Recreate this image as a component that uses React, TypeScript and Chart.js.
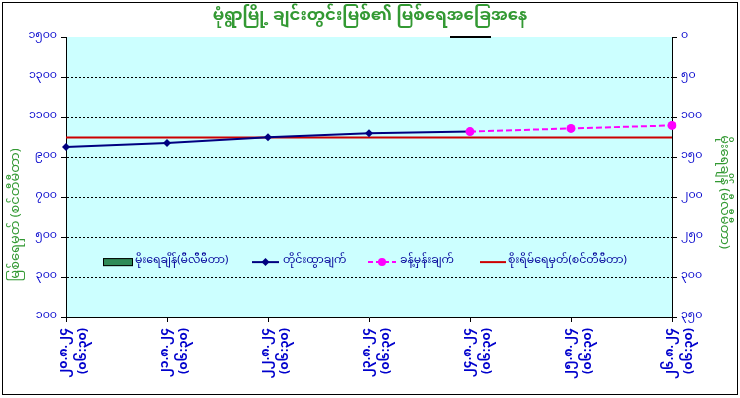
import React, { useEffect, useRef } from "react";
import { Chart, registerables } from "chart.js";
Chart.register(...registerables);

const titleText = "မုံရွာမြို့ ချင်းတွင်းမြစ်၏ မြစ်ရေအခြေအနေ";
const leftAxisTitle = "မြစ်ရေမှတ် (စင်တီမီတာ)";
const rightAxisTitle = "မိုးရေချိန် (မီလီမီတာ)";

const dates = ["၂၀.၈.၂၄", "၂၁.၈.၂၄", "၂၂.၈.၂၄", "၂၃.၈.၂၄", "၂၄.၈.၂၄", "၂၅.၈.၂၄", "၂၆.၈.၂၄"];
const times = ["(၀၆:၃၀)", "(၀၆:၃၀)", "(၀၆:၃၀)", "(၀၆:၃၀)", "(၀၆:၃၀)", "(၀၆:၃၀)", "(၀၆:၃၀)"];

const rainfall = [null, null, null, null, null, null, null];
const observed = [950, 970, 999, 1019, 1027, null, null];
const forecast = [null, null, null, null, 1027, 1043, 1058];
const dangerLevel = [998, 998, 998, 998, 998, 998, 998];

const seriesNames = [
  "မိုးရေချိန်(မီလီမီတာ)",
  "တိုင်းထွာချက်",
  "ခန့်မှန်းချက်",
  "စိုးရိမ်ရေမှတ်(စင်တီမီတာ)",
];

const leftMin = 100, leftMax = 1500, leftStep = 200;
const rightMin = 0, rightMax = 350, rightStep = 50;

const FONT = "'Noto Sans Myanmar','Myanmar Text','Padauk','Noto Sans',sans-serif";
const GREEN = "#339933";
const BLUE = "#0000CC";

const MY_DIGITS = "၀၁၂၃၄၅၆၇၈၉";
const toMy = (v: number | string) =>
  String(v).replace(/[0-9]/g, (d) => MY_DIGITS[Number(d)]);

const decor = {
  id: "decor",
  beforeDraw(chart: any) {
    const { ctx, chartArea } = chart;
    const { left, top, right, bottom } = chartArea;
    ctx.save();
    ctx.fillStyle = "#ffffff";
    ctx.fillRect(0, 0, chart.width, chart.height);
    ctx.fillStyle = "#CCFFFF";
    ctx.fillRect(left, top, right - left, bottom - top);
    ctx.restore();
  },
  afterDraw(chart: any) {
    const { ctx, chartArea } = chart;
    const { top, bottom } = chartArea;
    const h = bottom - top;
    ctx.save();
    // frame
    ctx.strokeStyle = "#000";
    ctx.lineWidth = 1;
    ctx.strokeRect(2.5, 2.5, 735, 392);
    // small mark under title
    ctx.lineWidth = 2;
    ctx.beginPath();
    ctx.moveTo(450, top);
    ctx.lineTo(491, top);
    ctx.stroke();
    // title
    ctx.fillStyle = GREEN;
    ctx.font = `bold 16.5px ${FONT}`;
    ctx.textAlign = "center";
    ctx.textBaseline = "middle";
    ctx.fillText(titleText, 370, 18);
    // axis titles
    ctx.font = `13px ${FONT}`;
    ctx.save();
    ctx.translate(18, 215);
    ctx.rotate(-Math.PI / 2);
    ctx.fillText(leftAxisTitle, 0, 0);
    ctx.restore();
    ctx.save();
    ctx.translate(722, 192);
    ctx.rotate(Math.PI / 2);
    ctx.fillText(rightAxisTitle, 0, 0);
    ctx.restore();
    // legend
    const ly = top + h * 0.804;
    ctx.font = `11px ${FONT}`;
    ctx.textAlign = "left";
    const ds = chart.data.datasets;
    // item 1: box
    ctx.fillStyle = ds[0].backgroundColor;
    ctx.fillRect(103, ly - 4, 30, 8);
    ctx.strokeStyle = "#000";
    ctx.lineWidth = 1;
    ctx.strokeRect(103.5, ly - 3.5, 29, 7);
    ctx.fillStyle = "#000099";
    ctx.fillText(seriesNames[0], 135, ly);
    // item 2: navy line with diamond
    ctx.strokeStyle = ds[1].borderColor;
    ctx.lineWidth = 2;
    ctx.beginPath();
    ctx.moveTo(252, ly);
    ctx.lineTo(279, ly);
    ctx.stroke();
    ctx.fillStyle = ds[1].borderColor;
    ctx.beginPath();
    ctx.moveTo(265.5, ly - 4);
    ctx.lineTo(269.5, ly);
    ctx.lineTo(265.5, ly + 4);
    ctx.lineTo(261.5, ly);
    ctx.closePath();
    ctx.fill();
    ctx.fillStyle = "#000099";
    ctx.fillText(seriesNames[1], 283, ly);
    // item 3: pink dashed with circle
    ctx.strokeStyle = ds[2].borderColor;
    ctx.setLineDash([5, 3]);
    ctx.beginPath();
    ctx.moveTo(368, ly);
    ctx.lineTo(396, ly);
    ctx.stroke();
    ctx.setLineDash([]);
    ctx.fillStyle = ds[2].borderColor;
    ctx.beginPath();
    ctx.arc(382, ly, 4, 0, Math.PI * 2);
    ctx.fill();
    ctx.fillStyle = "#000099";
    ctx.fillText(seriesNames[2], 400, ly);
    // item 4: red line
    ctx.strokeStyle = ds[3].borderColor;
    ctx.beginPath();
    ctx.moveTo(480, ly);
    ctx.lineTo(506, ly);
    ctx.stroke();
    ctx.fillStyle = "#000099";
    ctx.fillText(seriesNames[3], 508, ly);
    ctx.restore();
  },
};

export default function App() {
  const ref = useRef<HTMLCanvasElement>(null);
  useEffect(() => {
    document.body.style.margin = "0";
    const chart = new Chart(ref.current as HTMLCanvasElement, {
      type: "line",
      data: {
        labels: dates.map((d, i) => [d, times[i]]),
        datasets: [
          {
            type: "bar",
            label: seriesNames[0],
            data: rainfall,
            yAxisID: "y2",
            backgroundColor: "#2E8B57",
            borderColor: "#000",
            borderWidth: 1,
            order: 3,
          } as any,
          {
            label: seriesNames[1],
            data: observed,
            yAxisID: "y",
            borderColor: "#000080",
            backgroundColor: "#000080",
            borderWidth: 2,
            pointStyle: "rectRot",
            pointRadius: 4,
            pointBorderWidth: 0,
            spanGaps: false,
            order: 1,
          },
          {
            label: seriesNames[2],
            data: forecast,
            yAxisID: "y",
            borderColor: "#FF00FF",
            backgroundColor: "#FF00FF",
            borderWidth: 2,
            borderDash: [6, 3],
            pointStyle: "circle",
            pointRadius: 4.5,
            pointBorderWidth: 0,
            order: 0,
          },
          {
            label: seriesNames[3],
            data: dangerLevel,
            yAxisID: "y",
            borderColor: "#CC0000",
            backgroundColor: "#CC0000",
            borderWidth: 2,
            pointRadius: 0,
            order: 2,
          },
        ],
      },
      options: {
        animation: false,
        responsive: false,
        layout: { padding: { top: 37, left: 0, right: 0, bottom: 0 } },
        plugins: {
          legend: { display: false },
          title: { display: false },
          tooltip: { enabled: false },
        },
        scales: {
          x: {
            type: "category",
            offset: false,
            grid: {
              offset: false,
              drawOnChartArea: false,
              drawTicks: true,
              tickLength: 5,
              color: "#000",
            },
            border: { color: "#000", width: 1 },
            ticks: {
              autoSkip: false,
              minRotation: 90,
              maxRotation: 90,
              color: BLUE,
              padding: 6,
              font: { size: 12.5, weight: "bold", family: FONT, lineHeight: 1.5 },
            },
            afterFit: (s: any) => {
              s.height = 81;
            },
          },
          y: {
            position: "left",
            min: leftMin,
            max: leftMax,
            ticks: {
              stepSize: leftStep,
              color: BLUE,
              padding: 4,
              font: { size: 11, family: FONT },
              callback: (v: any) => toMy(v),
            },
            grid: {
              color: (c: any) => (c.tick && c.tick.value === leftMax ? "rgba(0,0,0,0)" : "#000"),
              tickColor: "#000",
              tickLength: 5,
              lineWidth: 1,
            },
            border: { color: "#000", width: 1, dash: [2, 2] },
            afterFit: (s: any) => {
              s.width = 66;
            },
          },
          y2: {
            position: "right",
            reverse: true,
            min: rightMin,
            max: rightMax,
            ticks: {
              stepSize: rightStep,
              color: BLUE,
              padding: 4,
              font: { size: 11, family: FONT },
              callback: (v: any) => toMy(v),
            },
            grid: {
              drawOnChartArea: false,
              tickColor: "#000",
              tickLength: 5,
              color: "#000",
            },
            border: { color: "#000", width: 1 },
            afterFit: (s: any) => {
              s.width = 68;
            },
          },
        },
      } as any,
      plugins: [decor],
    });
    return () => chart.destroy();
  }, []);
  return (
    <div style={{ width: 740, height: 398 }}>
      <canvas ref={ref} width={740} height={398} />
    </div>
  );
}
